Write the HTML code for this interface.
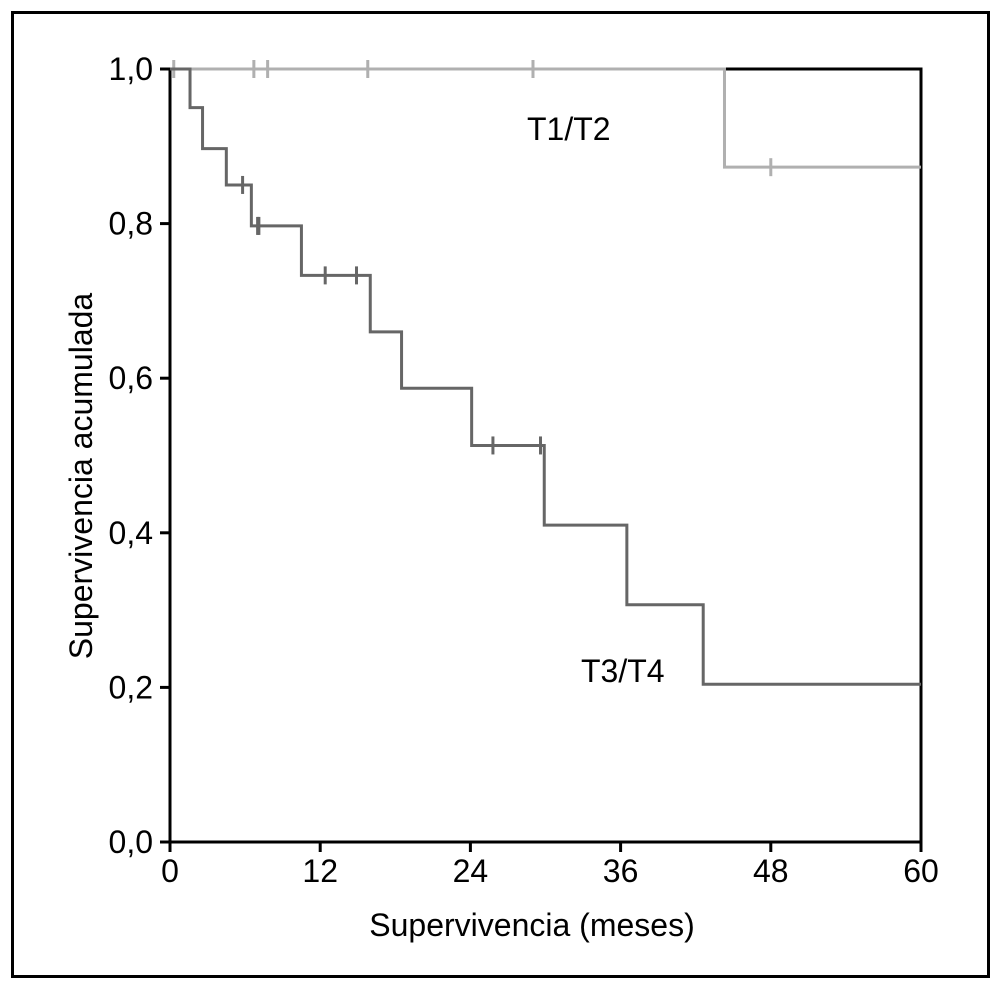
<!DOCTYPE html>
<html><head><meta charset="utf-8"><style>
html,body{margin:0;padding:0;background:#fff;}
svg{display:block;font-family:"Liberation Sans",Arial,sans-serif;}
</style></head><body>
<svg id="chart" width="1002" height="990" viewBox="0 0 1002 990">
<rect x="12.5" y="12.5" width="976" height="964" fill="none" stroke="#000" stroke-width="3"/>
<g id="axes"></g>
<g id="series"></g>
<text x="532" y="936" font-size="32" text-anchor="middle">Supervivencia (meses)</text>
<text transform="translate(92,476) rotate(-90)" font-size="32" text-anchor="middle">Supervivencia acumulada</text>
<text x="527" y="140" font-size="32">T1/T2</text>
<text x="581" y="682" font-size="32">T3/T4</text>
</svg>
<script>
const xTicks=[0,12,24,36,48,60];
const yTicks=[0,0.2,0.4,0.6,0.8,1.0];
const yTickLabels=["0,0","0,2","0,4","0,6","0,8","1,0"];
// T1/T2
const t12Times=[44.3];
const t12Surv=[0.873];
const t12Censor=[0.3,6.7,7.8,15.8,29,48];
// T3/T4
const t34Times=[1.6,2.6,4.5,6.5,10.5,16,18.5,24.1,29.9,36.5,42.6];
const t34Surv=[0.95,0.897,0.85,0.797,0.733,0.66,0.587,0.513,0.41,0.307,0.204];
const t34Censor=[5.8,7.0,7.1,12.4,14.9,25.8,29.6];
const X0=170,X1=921,Y0=842,Y1=69;
const sx=v=>X0+(X1-X0)*v/60;
const sy=v=>Y0-(Y0-Y1)*v;
const NS="http://www.w3.org/2000/svg";
function mk(tag,at,parent){const e=document.createElementNS(NS,tag);for(const k in at)e.setAttribute(k,at[k]);parent.appendChild(e);return e;}
const axes=document.getElementById('axes'),ser=document.getElementById('series');
let box=mk('rect',{x:X0,y:Y1,width:X1-X0,height:Y0-Y1,fill:'none',stroke:'#000','stroke-width':3},axes);


xTicks.forEach(t=>{
 let l=mk('line',{x1:sx(t),x2:sx(t),y1:Y0,y2:Y0+10,stroke:'#000','stroke-width':3},axes);
 
 
 let tx=mk('text',{x:sx(t),y:Y0+40,'font-size':32,'text-anchor':'middle'},axes);tx.textContent=t;
 
 
});
yTicks.forEach((t,i)=>{
 let l=mk('line',{x1:X0-10,x2:X0,y1:sy(t),y2:sy(t),stroke:'#000','stroke-width':3},axes);
 
 
 let tx=mk('text',{x:X0-17,y:sy(t)+11,'font-size':32,'text-anchor':'end'},axes);tx.textContent=yTickLabels[i];
 
 
});
function stepPath(times,surv){let d='M'+sx(0)+','+sy(1);times.forEach((t,i)=>{d+=' H'+sx(t)+' V'+sy(surv[i]);});d+=' H'+sx(60);return d;}
function survAt(times,surv,t){let s=1;times.forEach((tt,i)=>{if(t>=tt)s=surv[i];});return s;}
function draw(times,surv,cens,color,name){
 let p=mk('path',{d:stepPath(times,surv),fill:'none',stroke:color,'stroke-width':3},ser);
 
 
 cens.forEach(c=>{const y=sy(survAt(times,surv,c));
  let l=mk('line',{x1:sx(c),x2:sx(c),y1:y-9,y2:y+9,stroke:color,'stroke-width':3},ser);
  
  
 });
}
draw(t12Times,t12Surv,t12Censor,'#b0b0b0','t1t2');
draw(t34Times,t34Surv,t34Censor,'#666666','t3t4');
</script>
</body></html>
